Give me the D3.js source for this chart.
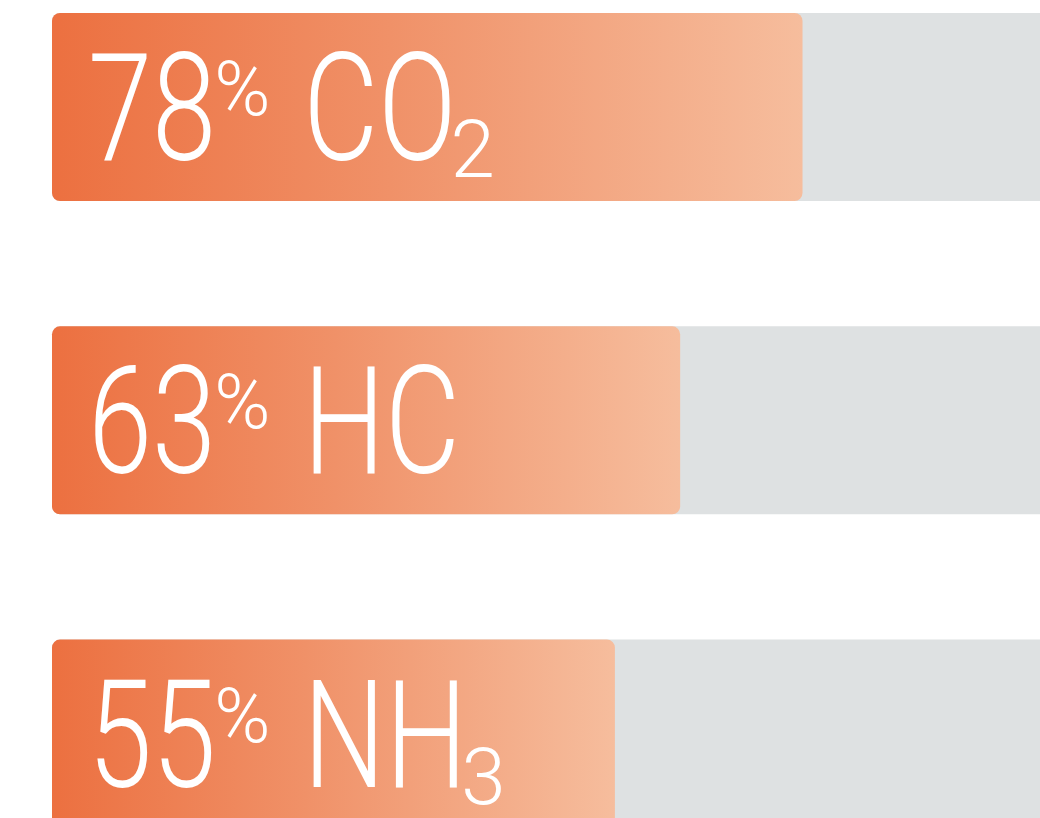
<!DOCTYPE html>
<html>
<head>
<meta charset="utf-8">
<script src="https://cdn.jsdelivr.net/npm/d3@7/dist/d3.min.js"></script>
<style>
  html, body { margin: 0; padding: 0; background: #ffffff; overflow: hidden; }
  svg { display: block; }
</style>
</head>
<body>
<script>
// Share of each emission reduced
const values = [78, 63, 55];
const gasBase = ["CO", "HC", "NH"];
const gasSub = ["2", "", "3"];

const W = 1040, H = 818;
const svg = d3.select("body").append("svg").attr("width", W).attr("height", H);

const defs = svg.append("defs");
const grad = defs.append("linearGradient")
  .attr("id", "barGrad")
  .attr("x1", "0%").attr("x2", "100%").attr("y1", "0%").attr("y2", "0%");
grad.append("stop").attr("offset", "0%").attr("stop-color", "#ec7040");
grad.append("stop").attr("offset", "45%").attr("stop-color", "#f09168");
grad.append("stop").attr("offset", "100%").attr("stop-color", "#f6bd9d");

const x = d3.scaleLinear().domain([-14, 100]).range([52, 982]);
const rowStep = 313.3, bh = 188, rowTop = 13;

const rows = svg.selectAll("g.row").data(values).join("g")
  .attr("class", "row")
  .attr("transform", (d, i) => `translate(0,${rowTop + i * rowStep})`);

// grey track running off to the right edge
rows.append("rect")
  .attr("x", x(-14)).attr("y", 0)
  .attr("width", W + 20 - x(-14)).attr("height", bh)
  .attr("rx", 8)
  .attr("fill", "#dee1e2");

// filled portion
rows.append("rect")
  .attr("x", x(-14)).attr("y", 0)
  .attr("width", d => x(d) - x(-14)).attr("height", bh)
  .attr("rx", 8)
  .attr("fill", "url(#barGrad)");

const font = "Roboto, 'Liberation Sans', sans-serif";
const condensed = 0.77;
const baseline = 147;

rows.each(function (d, i) {
  const g = d3.select(this).append("g").attr("fill", "#ffffff")
    .attr("font-family", font).attr("font-weight", 300);

  // big number, condensed
  let cx = 88;
  const num = g.append("text")
    .attr("font-size", 150)
    .attr("transform", `translate(${cx},${baseline}) scale(${condensed},1)`)
    .text(d);
  cx += num.node().getComputedTextLength() * condensed - 2;

  // raised percent sign
  const pct = g.append("text")
    .attr("font-size", 76)
    .attr("transform", `translate(${cx},${baseline - 45})`)
    .text("%");
  cx += pct.node().getComputedTextLength() + 33;

  // gas formula
  const gas = g.append("text")
    .attr("font-size", 150)
    .attr("transform", `translate(${cx},${baseline}) scale(${condensed},1)`)
    .text(gasBase[i]);
  cx += gas.node().getComputedTextLength() * condensed - 6;

  // subscript digit
  g.append("text")
    .attr("font-size", 80)
    .attr("transform", `translate(${cx},${baseline + 17})`)
    .text(gasSub[i]);
});
</script>
</body>
</html>
